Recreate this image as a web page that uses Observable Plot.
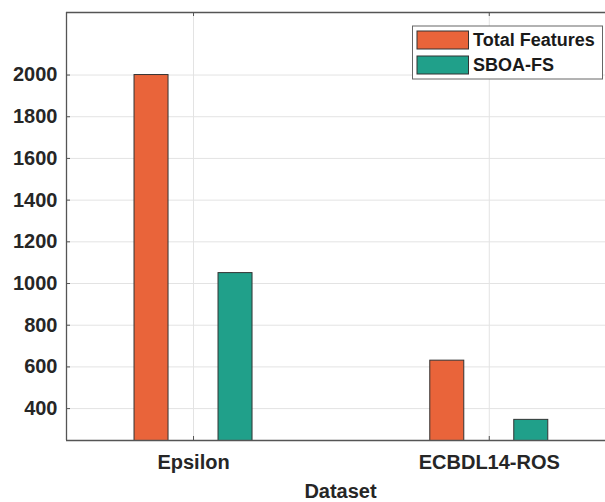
<!DOCTYPE html>
<html>
<head>
<meta charset="utf-8">
<script src="https://cdn.jsdelivr.net/npm/d3@7"></script>
<script src="https://cdn.jsdelivr.net/npm/@observablehq/plot@0.6"></script>
<style>
  html, body { margin: 0; padding: 0; background: #fff; }
  #chart { position: relative; width: 605px; height: 502px; }
  svg { font-family: "Liberation Sans", Arial, sans-serif; }
</style>
</head>
<body>
<div id="chart"></div>
<script>
const categories = ["Epsilon", "ECBDL14-ROS"];
const series = ["Total Features", "SBOA-FS"];
const totalFeatures = [2000, 630];
const sboaFs = [1050, 346];
const yTicks = [400, 600, 800, 1000, 1200, 1400, 1600, 1800, 2000];
const colors = ["#E9643A", "#20A08A"];
const xLabel = "Dataset";

const W = 605, H = 502, mL = 66, mR = 0, mT = 12, mB = 62;
const yDomain = [247, 2300];
const xDomain = [0.5705, 2.393];
const groupOffset = 0.142;   // offset of each series from category centre
const halfWidth = 0.0575;

// pixel-length of inward tick marks converted into data units
const tickPx = 4;
const xUnit = (xDomain[1] - xDomain[0]) / (W - mL - mR);
const yUnit = (yDomain[1] - yDomain[0]) / (H - mT - mB);

const data = categories.flatMap((c, i) => series.map((s, j) => ({
  category: c,
  idx: i + 1,
  series: s,
  j,
  value: (j === 0 ? totalFeatures : sboaFs)[i]
})));

const plot = Plot.plot({
  width: W,
  height: H,
  marginLeft: mL,
  marginRight: mR,
  marginTop: mT,
  marginBottom: mB,
  style: { fontFamily: "Liberation Sans, Arial, sans-serif", background: "#fff", color: "#262626" },
  x: { type: "linear", domain: xDomain },
  y: { domain: yDomain },
  color: { domain: series, range: colors },
  marks: [
    Plot.gridY(yTicks, { stroke: "#e3e3e3", strokeOpacity: 1 }),
    Plot.gridX([1, 2], { stroke: "#e3e3e3", strokeOpacity: 1 }),
    Plot.rectY(data, {
      x1: d => d.idx + (d.j - 0.5) * 2 * groupOffset - halfWidth,
      x2: d => d.idx + (d.j - 0.5) * 2 * groupOffset + halfWidth,
      y1: 0,
      y2: "value",
      fill: "series",
      stroke: "#333",
      strokeWidth: 1,
      clip: true
    }),
    Plot.ruleX([xDomain[0]], { stroke: "#555", strokeWidth: 1.3 }),
    Plot.ruleY([yDomain[0], yDomain[1]], { stroke: "#555", strokeWidth: 1.3 }),
    // inward tick marks
    Plot.ruleY(yTicks, { x1: xDomain[0], x2: xDomain[0] + tickPx * xUnit, stroke: "#555" }),
    Plot.ruleX([1, 2], { y1: yDomain[0], y2: yDomain[0] + tickPx * yUnit, stroke: "#555" }),
    Plot.ruleX([1, 2], { y1: yDomain[1], y2: yDomain[1] - tickPx * yUnit, stroke: "#555" }),
    Plot.axisY(yTicks, { tickSize: 0, tickPadding: 9, tickFormat: d3.format("d"), fontSize: 20, fontWeight: "bold", label: null, fill: "#262626" }),
    Plot.axisX([1, 2], { anchor: "bottom", tickSize: 0, tickPadding: 14, tickFormat: i => categories[i - 1], fontSize: 20, fontWeight: "bold", label: null, fill: "#262626" }),
    Plot.text([xLabel], { frameAnchor: "bottom", lineAnchor: "top", dy: 43, dx: 4.5, fontSize: 20, fontWeight: "bold", fill: "#262626", text: d => d })
  ]
});

document.getElementById("chart").appendChild(plot);

// Legend inside the plot area (top right)
const color = plot.scale("color");
const svg = d3.select(plot);
const lg = svg.append("g").attr("transform", "translate(412.5,26)");
lg.append("rect").attr("width", 190).attr("height", 53).attr("fill", "#fff").attr("stroke", "#666").attr("stroke-width", 1);
series.forEach((s, k) => {
  const yy = 5 + k * 25;
  lg.append("rect").attr("x", 4.5).attr("y", yy).attr("width", 51.5).attr("height", 18)
    .attr("fill", color.apply(s)).attr("stroke", "#333").attr("stroke-width", 1);
  lg.append("text").attr("x", 60.5).attr("y", yy + 9).attr("dy", "0.35em")
    .attr("text-anchor", "start")
    .attr("font-size", 18).attr("font-weight", "bold").attr("fill", "#1a1a1a")
    .attr("font-family", "Liberation Sans, Arial, sans-serif").text(s);
});
</script>
</body>
</html>
